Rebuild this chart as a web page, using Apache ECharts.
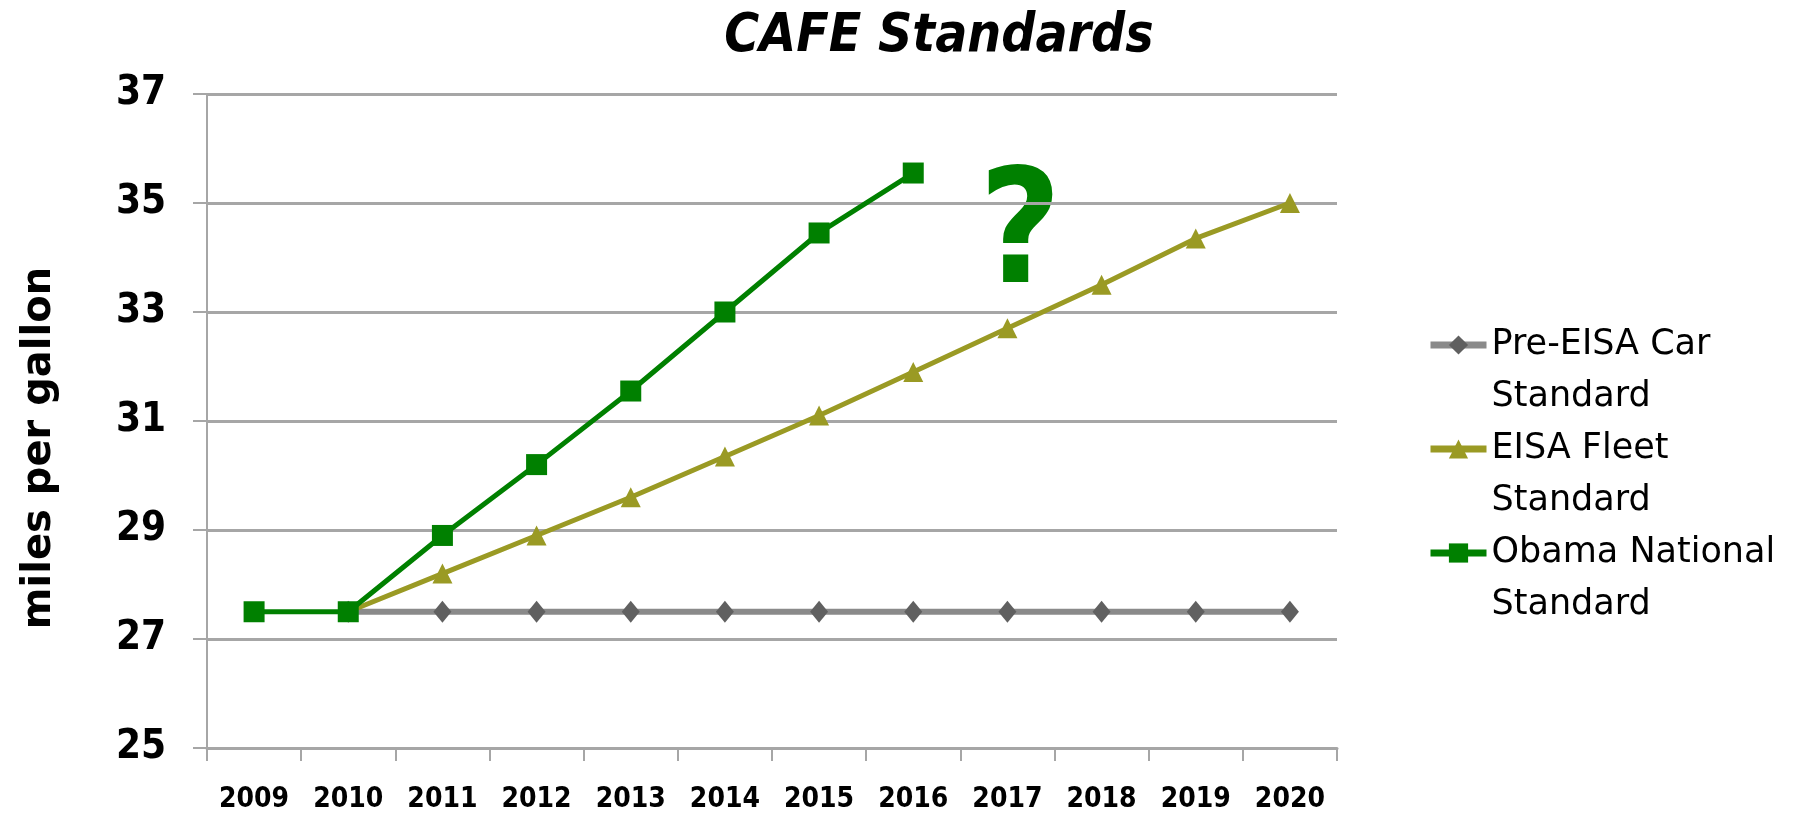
<!DOCTYPE html>
<html>
<head>
<meta charset="utf-8">
<script src="https://cdn.jsdelivr.net/npm/echarts@6/dist/echarts.min.js"></script>
<style>
  html, body { margin: 0; padding: 0; background: #fff; }
  #chart { width: 1800px; height: 817px; }
</style>
</head>
<body>
<div id="chart"></div>
<script>
const years = ['2009','2010','2011','2012','2013','2014','2015','2016','2017','2018','2019','2020'];
const preEisa = [null, 27.5, 27.5, 27.5, 27.5, 27.5, 27.5, 27.5, 27.5, 27.5, 27.5, 27.5];
const eisaFleet = [null, 27.5, 28.2, 28.9, 29.6, 30.35, 31.1, 31.9, 32.7, 33.5, 34.35, 35.0];
const obama = [27.5, 27.5, 28.9, 30.2, 31.55, 33.0, 34.45, 35.55, null, null, null, null];
// leading empty line keeps the legend icon level with the first text line
const legendText = {
  'Pre-EISA Car Standard': '\nPre-EISA Car\nStandard',
  'EISA Fleet Standard': '\nEISA Fleet\nStandard',
  'Obama National Standard': '\nObama National\nStandard'
};

const chart = echarts.init(document.getElementById('chart'));
const gridColor = '#a6a6a6';
const font = '"DejaVu Sans Condensed", "DejaVu Sans", sans-serif';
chart.setOption({
  animation: false,
  title: {
    text: 'CAFE Standards',
    left: 934,
    top: 6,
    textAlign: 'center',
    textStyle: { fontFamily: font, fontStyle: 'italic', fontWeight: 'bold', fontSize: 53, color: '#000' }
  },
  legend: {
    orient: 'vertical',
    left: 1422,
    top: 262,
    itemWidth: 56,
    itemHeight: 24,
    itemGap: -52,
    lineStyle: { width: 7 },
    data: ['Pre-EISA Car Standard', 'EISA Fleet Standard', 'Obama National Standard'],
    formatter: function (name) { return legendText[name]; },
    textStyle: { fontFamily: 'DejaVu Sans', fontSize: 35, lineHeight: 52, color: '#000' }
  },
  grid: { left: 207, right: 463, top: 94, bottom: 69, containLabel: false },
  xAxis: {
    type: 'category',
    data: years,
    boundaryGap: true,
    axisLine: { lineStyle: { color: gridColor, width: 3 } },
    axisTick: { show: true, length: 13, alignWithLabel: false, lineStyle: { color: gridColor, width: 2 } },
    axisLabel: { margin: 38, fontFamily: font, fontWeight: 'bold', fontSize: 28, color: '#000' }
  },
  yAxis: {
    type: 'value',
    min: 25,
    max: 37,
    interval: 2,
    name: 'miles per gallon',
    nameLocation: 'middle',
    nameGap: 147,
    nameTextStyle: { fontFamily: 'DejaVu Sans', fontWeight: 'bold', fontSize: 40, color: '#000', padding: [0, 54, 0, 0] },
    axisLine: { show: true, lineStyle: { color: gridColor, width: 2 } },
    axisTick: { show: true, length: 14, lineStyle: { color: gridColor, width: 2 } },
    axisLabel: { margin: 41, fontFamily: font, fontWeight: 'bold', fontSize: 40, color: '#000' },
    splitLine: { lineStyle: { color: gridColor, width: 3 } }
  },
  graphic: [{
    type: 'text',
    left: 979,
    top: 162,
    style: { text: '?', fontFamily: font, fontWeight: 'bold', fontSize: 158, fill: '#008000' }
  }],
  series: [
    {
      name: 'Pre-EISA Car Standard',
      type: 'line',
      data: preEisa,
      symbol: 'diamond',
      symbolSize: [18, 22],
      lineStyle: { color: '#8a8a8a', width: 6 },
      itemStyle: { color: '#606060' }
    },
    {
      name: 'EISA Fleet Standard',
      type: 'line',
      data: eisaFleet,
      symbol: 'triangle',
      symbolSize: 20,
      lineStyle: { color: '#9a9a24', width: 5 },
      itemStyle: { color: '#9a9a24' }
    },
    {
      name: 'Obama National Standard',
      type: 'line',
      data: obama,
      symbol: 'rect',
      symbolSize: 21,
      lineStyle: { color: '#008000', width: 5 },
      itemStyle: { color: '#008000' }
    }
  ]
});
</script>
</body>
</html>
